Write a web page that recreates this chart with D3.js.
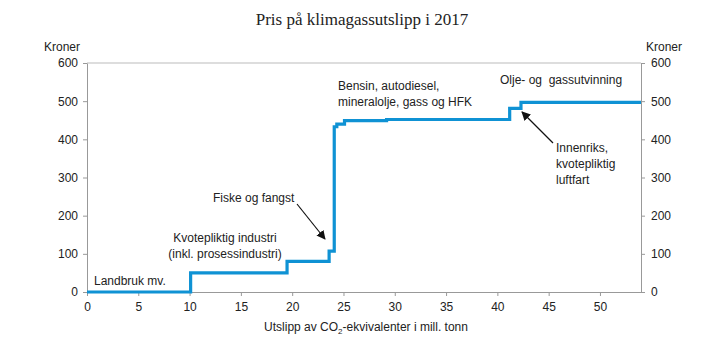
<!DOCTYPE html>
<html>
<head>
<meta charset="utf-8">
<script src="https://cdn.jsdelivr.net/npm/d3@7"></script>
<style>
  body { margin: 0; background: #fff; }
  svg text { font-family: "Liberation Sans", Arial, sans-serif; fill: #222; white-space: pre; }
</style>
</head>
<body>
<div id="chart"></div>
<script>
'use strict';

// utslipp (mill. tonn) der prisen endres, og pris (kroner) fra og med det punktet
var emissions = [0, 10.1, 19.5, 23.6, 24.1, 24.35, 25.1, 29.2, 41.2, 42.3, 54];
var prices    = [0, 50, 80, 107, 433, 440, 449, 452, 481, 497, 497];

var xTicks = [0, 5, 10, 15, 20, 25, 30, 35, 40, 45, 50];
var yTicks = [0, 100, 200, 300, 400, 500, 600];

var labels = [
	{ lines: ['Landbruk mv.'], x: 94, y: 285, anchor: 'start' },
	{ lines: ['Kvotepliktig industri', '(inkl. prosessindustri)'], x: 225, y: 242, anchor: 'middle' },
	{ lines: ['Fiske og fangst'], x: 213, y: 202, anchor: 'start' },
	{ lines: ['Bensin, autodiesel,', 'mineralolje, gass og HFK'], x: 338, y: 90, anchor: 'start' },
	{ lines: ['Olje- og  gassutvinning'], x: 500, y: 84, anchor: 'start' },
	{ lines: ['Innenriks,', 'kvotepliktig', 'luftfart'], x: 556, y: 152, anchor: 'start' }
];

var arrows = [
	{ x1: 297, y1: 204, x2: 325, y2: 239 },
	{ x1: 553, y1: 143, x2: 522, y2: 112 }
];

var width = 724;
var height = 353;
var margin = {top: 63, right: 83, bottom: 61, left: 87};
var w = width - margin.left - margin.right;
var h = height - margin.top - margin.bottom;

var svg = d3.select('#chart').append('svg')
	.attr('width', width)
	.attr('height', height);

var defs = svg.append('defs');
defs.append('marker')
	.attr('id', 'arrow')
	.attr('viewBox', '0 0 10 10')
	.attr('refX', 9)
	.attr('refY', 5)
	.attr('markerWidth', 9)
	.attr('markerHeight', 9)
	.attr('markerUnits', 'userSpaceOnUse')
	.attr('orient', 'auto')
	.append('path')
		.attr('d', 'M0,0 L10,5 L0,10 z')
		.attr('fill', '#111');

svg.append('text')
	.attr('x', 362)
	.attr('y', 25)
	.attr('text-anchor', 'middle')
	.style('font-family', '"Liberation Serif", "Times New Roman", serif')
	.style('font-size', '17px')
	.text('Pris på klimagassutslipp i 2017');

var g = svg.append('g')
	.attr('transform', 'translate(' + margin.left + ',' + margin.top + ')');

var x = d3.scaleLinear().domain([0, 54]).range([0, w]);
var y = d3.scaleLinear().domain([0, 600]).range([h, 0]);

// ramme
g.append('line')
	.attr('x1', 0).attr('x2', w).attr('y1', 0).attr('y2', 0)
	.attr('stroke', '#bbb');

function styleAxis(sel) {
	sel.select('.domain').attr('stroke', '#999');
	sel.selectAll('.tick line').attr('stroke', '#999');
	sel.selectAll('.tick text').style('font-size', '12px').attr('fill', '#222');
}

g.append('g')
	.attr('transform', 'translate(0,' + h + ')')
	.call(d3.axisBottom(x).tickValues(xTicks).tickSize(4).tickSizeOuter(0).tickPadding(6))
	.call(styleAxis);

g.append('g')
	.call(d3.axisLeft(y).tickValues(yTicks).tickSize(4).tickSizeOuter(0).tickPadding(5))
	.call(styleAxis);

g.append('g')
	.attr('transform', 'translate(' + w + ',0)')
	.call(d3.axisRight(y).tickValues(yTicks).tickSize(4).tickSizeOuter(0).tickPadding(6))
	.call(styleAxis);

g.append('text')
	.attr('x', -7).attr('y', -12)
	.attr('text-anchor', 'end')
	.style('font-size', '12px')
	.text('Kroner');

g.append('text')
	.attr('x', w + 5).attr('y', -12)
	.attr('text-anchor', 'start')
	.style('font-size', '12px')
	.text('Kroner');

var data = emissions.map(function(d, i){ return [d, prices[i]]; });

var line = d3.line()
	.x(function(d){ return x(d[0]); })
	.y(function(d){ return y(d[1]); })
	.curve(d3.curveStepAfter);

g.append('path')
	.datum(data)
	.attr('d', line)
	.attr('fill', 'none')
	.attr('stroke', '#0f92d4')
	.attr('stroke-width', 3.2);

// merknader
labels.forEach(function(l){
	var t = svg.append('text')
		.attr('x', l.x)
		.attr('y', l.y)
		.attr('text-anchor', l.anchor)
		.style('font-size', '12px');
	l.lines.forEach(function(s, i){
		t.append('tspan').attr('x', l.x).attr('dy', i === 0 ? 0 : 16).text(s);
	});
});

arrows.forEach(function(a){
	svg.append('line')
		.attr('x1', a.x1).attr('y1', a.y1)
		.attr('x2', a.x2).attr('y2', a.y2)
		.attr('stroke', '#111')
		.attr('stroke-width', 1.2)
		.attr('marker-end', 'url(#arrow)');
});

var xl = svg.append('text')
	.attr('x', 366)
	.attr('y', 331)
	.attr('text-anchor', 'middle')
	.style('font-size', '12px');
xl.append('tspan').text('Utslipp av CO');
xl.append('tspan').attr('dy', 3).style('font-size', '8px').text('2');
xl.append('tspan').attr('dy', -3).text('-ekvivalenter i mill. tonn');
</script>
</body>
</html>
